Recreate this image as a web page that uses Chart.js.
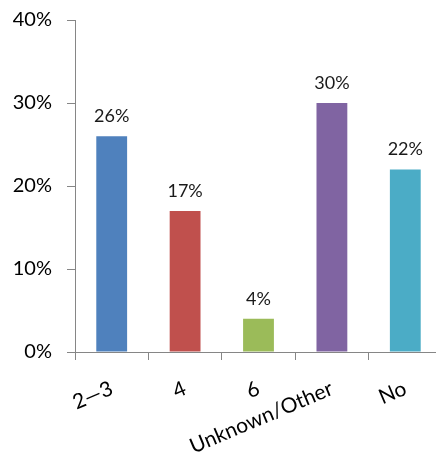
<!DOCTYPE html>
<html>
<head>
<meta charset="utf-8">
<script src="https://cdn.jsdelivr.net/npm/chart.js@4"></script>
<style>
  html, body { margin: 0; padding: 0; background: #fff; overflow: hidden; }
  #wrap { position: relative; width: 445px; height: 453px; }
</style>
</head>
<body>
<div id="wrap"><canvas id="c" width="445" height="453"></canvas></div>
<script>
// Share of responses per category (percent)
const categories = ['2\u20143', '4', '6', 'Unknown/Other', 'No'];
const values = [26, 17, 4, 30, 22];
const barColors = ['#4F81BD', '#C0504D', '#9BBB59', '#8064A2', '#4BACC6'];
const yTicks = [0, 10, 20, 30, 40];

const FONT = 'Lato, "Open Sans", sans-serif';
const AXIS_GRAY = '#868686';

// Percentage labels drawn just above each bar
const valueLabels = {
  id: 'valueLabels',
  afterDatasetsDraw(chart) {
    const ctx = chart.ctx;
    const meta = chart.getDatasetMeta(0);
    ctx.save();
    ctx.font = '18px ' + FONT;
    ctx.fillStyle = '#1a1a1a';
    ctx.textAlign = 'center';
    ctx.textBaseline = 'alphabetic';
    meta.data.forEach((bar, i) => {
      ctx.fillText(values[i] + '%', bar.x, bar.y - 14);
    });
    ctx.restore();
  }
};

new Chart(document.getElementById('c'), {
  type: 'bar',
  data: {
    labels: categories,
    datasets: [{
      data: values,
      backgroundColor: barColors,
      borderWidth: 0,
      barPercentage: 0.42,
      categoryPercentage: 1
    }]
  },
  options: {
    responsive: false,
    animation: false,
    layout: { padding: { top: 20, right: 3, left: 0, bottom: 0 } },
    plugins: { legend: { display: false }, tooltip: { enabled: false } },
    scales: {
      x: {
        offset: true,
        grid: {
          display: true,
          drawOnChartArea: false,
          offset: true,
          tickLength: 8,
          color: AXIS_GRAY
        },
        border: { color: AXIS_GRAY, width: 1 },
        ticks: {
          color: '#000',
          font: { family: FONT, size: 21 },
          minRotation: 23,
          maxRotation: 23,
          autoSkip: false,
          padding: 16
        },
        afterFit(scale) { scale.height = 101; }
      },
      y: {
        min: 0,
        max: 40,
        afterBuildTicks(scale) { scale.ticks = yTicks.map(v => ({ value: v })); },
        grid: {
          display: true,
          drawOnChartArea: false,
          tickLength: 8,
          color: AXIS_GRAY
        },
        border: { color: AXIS_GRAY, width: 1 },
        ticks: {
          color: '#000',
          font: { family: FONT, size: 20 },
          padding: 15,
          callback: v => v + '%'
        },
        afterFit(scale) {
          scale.width = 75;
          scale.paddingTop = 0;
          scale.paddingBottom = 0;
        }
      }
    }
  },
  plugins: [valueLabels]
});
</script>
</body>
</html>
